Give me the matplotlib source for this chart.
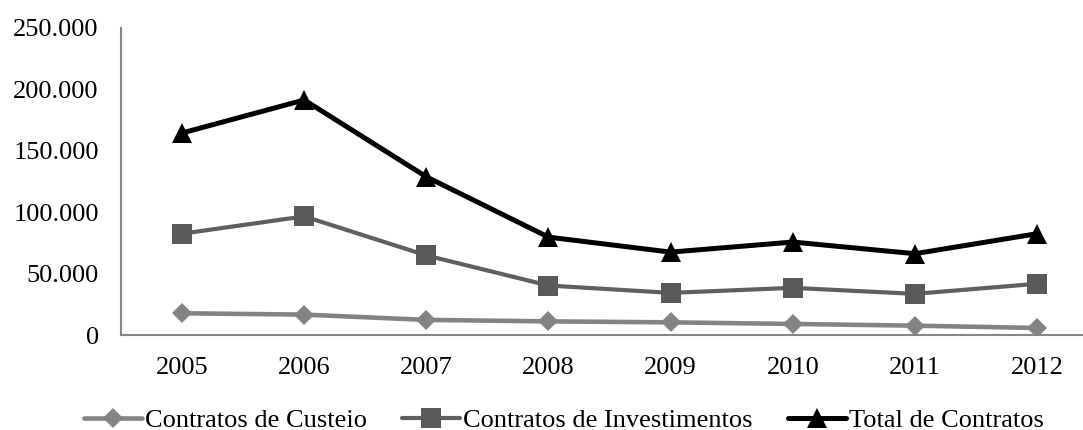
import matplotlib
matplotlib.use("Agg")
import matplotlib.pyplot as plt
from matplotlib.ticker import FuncFormatter

years = ["2005", "2006", "2007", "2008", "2009", "2010", "2011", "2012"]
custeio = [17700, 16600, 12300, 11100, 10300, 9000, 7600, 5700]
investimentos = [82500, 96600, 64800, 40300, 34300, 38400, 33500, 41700]
total = [164500, 191400, 128800, 79700, 67500, 75700, 66200, 82500]
y_ticks = [0, 50000, 100000, 150000, 200000, 250000]

plt.rcParams['font.family'] = ['Liberation Serif', 'DejaVu Serif']

fig = plt.figure(figsize=(10.83, 4.30), dpi=100)
ax = fig.add_axes([121/1083, 1-335/430, 1-121/1083, (335-28)/430])

x = list(range(len(years)))
ax.plot(x, custeio, color='#838383', lw=3.3, marker='D', ms=10, mec='#838383', mew=0,
        solid_capstyle='round', label='Contratos de Custeio', zorder=3)
ax.plot(x, investimentos, color='#5f5f5f', lw=3.0, marker='s', ms=14, mfc='#595959', mec='#595959', mew=0,
        solid_capstyle='round', label='Contratos de Investimentos', zorder=3)
ax.plot(x, total, color='black', lw=3.6, marker='^', ms=15, mew=0,
        solid_capstyle='round', label='Total de Contratos', zorder=3)

ax.set_ylim(0, 250000)
ax.set_xlim(-0.5, 7 + (1083-1037)/122.3)
ax.set_yticks(y_ticks)
ax.yaxis.set_major_formatter(FuncFormatter(lambda v, p: f"{int(v):,}".replace(",", ".")))
ax.set_xticks(x)
ax.set_xticklabels(years)
ax.tick_params(axis='both', length=0, labelsize=19, colors='black')
ax.tick_params(axis='y', pad=16)
ax.tick_params(axis='x', pad=16)

for s in ['top', 'right']:
    ax.spines[s].set_visible(False)
for s in ['left', 'bottom']:
    ax.spines[s].set_color('#868686')
    ax.spines[s].set_linewidth(1.5)

leg = fig.legend(loc='center', bbox_to_anchor=(0.5205, 1-420/430), ncol=3, frameon=False,
                 fontsize=19, handlelength=2.2, handletextpad=0.1, columnspacing=1.35,
                 borderaxespad=0, borderpad=0)

fig.savefig('out.png', dpi=100)
